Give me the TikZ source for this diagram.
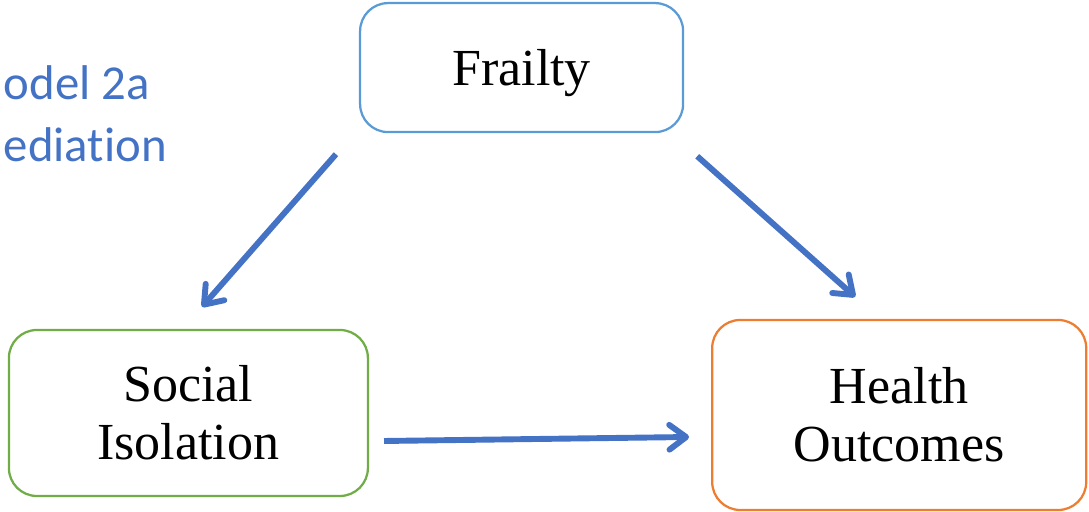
\documentclass[tikz,border=0pt]{standalone}
\usepackage{fontspec}
\setmainfont{Liberation Serif}
\newfontfamily\calibrifont[Ligatures=NoCommon]{Carlito}
\usetikzlibrary{arrows.meta}

\definecolor{arrowblue}{RGB}{68,114,196}
\definecolor{frailblue}{RGB}{91,155,213}
\definecolor{isogreen}{RGB}{112,173,71}
\definecolor{outorange}{RGB}{237,125,49}

\tikzset{
  varbox/.style={draw, line width=1.6pt, rounded corners=0.7cm, align=center,
    inner sep=0pt, font=\fontsize{37}{41}\selectfont},
  path/.style={arrowblue, line width=4.2pt,
    -{Straight Barb[length=0.42cm, width=0.62cm, line cap=round, line join=round]}}
}

\begin{document}
\begin{tikzpicture}

    \useasboundingbox (0,0) rectangle (27.225,12.8);

    % Title, cut at the left edge
    \node[anchor=base west, align=left, arrowblue, font=\calibrifont\fontsize{34.7}{44.6}\selectfont]
        (title) at (-1.07,8.75) {Model 2a\\Mediation};

    % Boxes
    \node[varbox, frailblue, text=black, text depth=0pt, minimum width=8.075cm, minimum height=3.225cm]
        (frailty) at (13.04,11.11) {Frailty};
    \node[varbox, isogreen, text=black, minimum width=8.975cm, minimum height=4.15cm]
        (social) at (4.71,2.475) {Social\\Isolation};
    \node[varbox, outorange, text=black, minimum width=9.35cm, minimum height=4.75cm]
        (health) at (22.48,2.425) {Health\\Outcomes};

    % Arrow ends
    \coordinate (fs-from) at ([xshift=-0.575cm, yshift=-0.525cm]frailty.south west);
    \coordinate (fs-to) at ([xshift=0.34cm, yshift=0.55cm]social.north);
    \coordinate (fh-from) at ([xshift=0.325cm, yshift=-0.575cm]frailty.south east);
    \coordinate (fh-to) at ([xshift=-1.1cm, yshift=0.55cm]health.north);
    \coordinate (sh-from) at ([xshift=0.375cm, yshift=-0.7cm]social.east);
    \coordinate (sh-to) at ([xshift=-0.55cm, yshift=-0.55cm]health.west);

    % Arrows
    \draw[path] (fs-from) -- (fs-to);
    \draw[path] (fh-from) -- (fh-to);
    \draw[path] (sh-from) -- (sh-to);

\end{tikzpicture}
\end{document}
